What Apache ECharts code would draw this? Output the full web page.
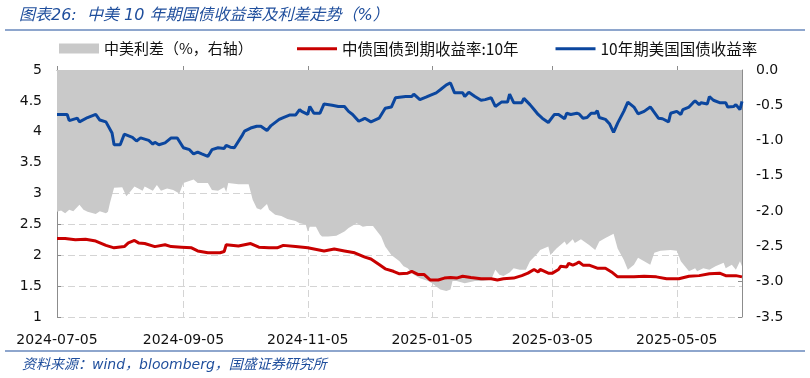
<!DOCTYPE html>
<html>
<head>
<meta charset="utf-8">
<title>中美10年期国债收益率及利差走势</title>
<script src="https://cdn.jsdelivr.net/npm/echarts@6/dist/echarts.min.js"></script>
<style>
  html, body { margin: 0; padding: 0; background: #fff; }
  #main { width: 810px; height: 378px; }
</style>
</head>
<body>
<div id="main"></div>
<script>
// 横轴：逐日类目，起止日期 + 需要显示的刻度标签
var startDate = '2024-07-05';
var endDate = '2025-06-06';
var xTickLabels = ['2024-07-05', '2024-09-05', '2024-11-05', '2025-01-05', '2025-03-05', '2025-05-05'];

var seriesNames = ['中美利差（%，右轴）', '中债国债到期收益率:10年', '10年期美国国债收益率'];

// 中美利差（右轴）
var spread = [
  ['2024-07-05', -2.01], ['2024-07-07', -1.99], ['2024-07-09', -2.03], ['2024-07-11', -1.98], ['2024-07-13', -2.00],
  ['2024-07-16', -1.91], ['2024-07-18', -1.98], ['2024-07-20', -2.01], ['2024-07-24', -2.04], ['2024-07-26', -2.00],
  ['2024-07-29', -2.03], ['2024-07-30', -2.01], ['2024-07-31', -1.88], ['2024-08-02', -1.67], ['2024-08-06', -1.66],
  ['2024-08-08', -1.79], ['2024-08-10', -1.72], ['2024-08-12', -1.65], ['2024-08-16', -1.71], ['2024-08-17', -1.65],
  ['2024-08-21', -1.71], ['2024-08-23', -1.63], ['2024-08-25', -1.71], ['2024-08-28', -1.68], ['2024-08-31', -1.70],
  ['2024-09-03', -1.75], ['2024-09-05', -1.60], ['2024-09-10', -1.55], ['2024-09-12', -1.60], ['2024-09-17', -1.60],
  ['2024-09-19', -1.70], ['2024-09-22', -1.71], ['2024-09-25', -1.66], ['2024-09-26', -1.73], ['2024-09-27', -1.60],
  ['2024-10-02', -1.62], ['2024-10-07', -1.62], ['2024-10-09', -1.84], ['2024-10-11', -1.96], ['2024-10-13', -1.98],
  ['2024-10-16', -1.90], ['2024-10-17', -1.98], ['2024-10-20', -2.05], ['2024-10-23', -2.07], ['2024-10-26', -2.11],
  ['2024-10-30', -2.14], ['2024-11-01', -2.17], ['2024-11-04', -2.19], ['2024-11-05', -2.29], ['2024-11-06', -2.22],
  ['2024-11-09', -2.22], ['2024-11-11', -2.33], ['2024-11-12', -2.36], ['2024-11-15', -2.36], ['2024-11-19', -2.35],
  ['2024-11-23', -2.29], ['2024-11-25', -2.24], ['2024-11-29', -2.17], ['2024-12-02', -2.22], ['2024-12-04', -2.21],
  ['2024-12-07', -2.21], ['2024-12-11', -2.36], ['2024-12-13', -2.50], ['2024-12-16', -2.62], ['2024-12-20', -2.71],
  ['2024-12-22', -2.78], ['2024-12-24', -2.81], ['2024-12-27', -2.90], ['2024-12-30', -2.95], ['2025-01-03', -2.99],
  ['2025-01-05', -3.02], ['2025-01-08', -3.09], ['2025-01-09', -3.11], ['2025-01-12', -3.13], ['2025-01-14', -3.11],
  ['2025-01-15', -2.99], ['2025-01-17', -2.99], ['2025-01-21', -3.02], ['2025-01-26', -2.99], ['2025-01-30', -2.99],
  ['2025-02-03', -2.97], ['2025-02-05', -2.83], ['2025-02-07', -2.90], ['2025-02-09', -2.92], ['2025-02-12', -2.87],
  ['2025-02-14', -2.81], ['2025-02-17', -2.83], ['2025-02-20', -2.83], ['2025-02-22', -2.71], ['2025-02-26', -2.59],
  ['2025-02-27', -2.55], ['2025-03-03', -2.50], ['2025-03-04', -2.62], ['2025-03-07', -2.53], ['2025-03-11', -2.43],
  ['2025-03-12', -2.48], ['2025-03-15', -2.40], ['2025-03-16', -2.45], ['2025-03-19', -2.40], ['2025-03-23', -2.48],
  ['2025-03-26', -2.55], ['2025-03-28', -2.43], ['2025-03-31', -2.38], ['2025-04-04', -2.32], ['2025-04-06', -2.53],
  ['2025-04-09', -2.69], ['2025-04-11', -2.83], ['2025-04-14', -2.76], ['2025-04-16', -2.66], ['2025-04-19', -2.71],
  ['2025-04-22', -2.76], ['2025-04-24', -2.59], ['2025-04-27', -2.56], ['2025-05-02', -2.55], ['2025-05-05', -2.56],
  ['2025-05-07', -2.71], ['2025-05-09', -2.78], ['2025-05-11', -2.85], ['2025-05-14', -2.81], ['2025-05-15', -2.85],
  ['2025-05-18', -2.81], ['2025-05-21', -2.83], ['2025-05-24', -2.78], ['2025-05-28', -2.73], ['2025-05-29', -2.81],
  ['2025-06-01', -2.76], ['2025-06-03', -2.83], ['2025-06-05', -2.71], ['2025-06-06', -2.78]
];

// 中债国债到期收益率:10年
var cnYield = [
  ['2024-07-05', 2.27], ['2024-07-09', 2.27], ['2024-07-14', 2.25], ['2024-07-19', 2.26], ['2024-07-24', 2.23],
  ['2024-07-29', 2.16], ['2024-08-02', 2.12], ['2024-08-07', 2.14], ['2024-08-09', 2.20], ['2024-08-12', 2.24],
  ['2024-08-14', 2.20], ['2024-08-17', 2.19], ['2024-08-22', 2.14], ['2024-08-27', 2.17], ['2024-08-30', 2.14],
  ['2024-09-04', 2.13], ['2024-09-09', 2.12], ['2024-09-12', 2.07], ['2024-09-17', 2.04], ['2024-09-23', 2.04],
  ['2024-09-25', 2.06], ['2024-09-26', 2.17], ['2024-10-02', 2.15], ['2024-10-08', 2.19], ['2024-10-12', 2.13],
  ['2024-10-17', 2.12], ['2024-10-21', 2.12], ['2024-10-24', 2.16], ['2024-10-30', 2.14], ['2024-11-05', 2.12],
  ['2024-11-13', 2.07], ['2024-11-18', 2.10], ['2024-11-23', 2.07], ['2024-11-28', 2.04], ['2024-12-03', 1.97],
  ['2024-12-06', 1.94], ['2024-12-10', 1.85], ['2024-12-13', 1.78], ['2024-12-17', 1.74], ['2024-12-20', 1.70],
  ['2024-12-24', 1.71], ['2024-12-26', 1.74], ['2024-12-29', 1.69], ['2025-01-01', 1.69], ['2025-01-04', 1.60],
  ['2025-01-08', 1.60], ['2025-01-11', 1.63], ['2025-01-14', 1.64], ['2025-01-17', 1.63], ['2025-01-20', 1.66],
  ['2025-01-24', 1.64], ['2025-01-29', 1.62], ['2025-02-03', 1.62], ['2025-02-06', 1.60], ['2025-02-09', 1.62],
  ['2025-02-14', 1.63], ['2025-02-18', 1.67], ['2025-02-21', 1.71], ['2025-02-24', 1.77], ['2025-02-26', 1.73],
  ['2025-02-27', 1.77], ['2025-03-03', 1.71], ['2025-03-05', 1.71], ['2025-03-08', 1.77], ['2025-03-09', 1.82],
  ['2025-03-12', 1.81], ['2025-03-13', 1.87], ['2025-03-15', 1.84], ['2025-03-17', 1.87], ['2025-03-18', 1.89],
  ['2025-03-20', 1.84], ['2025-03-23', 1.84], ['2025-03-27', 1.79], ['2025-03-31', 1.79], ['2025-04-03', 1.73],
  ['2025-04-06', 1.65], ['2025-04-09', 1.65], ['2025-04-14', 1.65], ['2025-04-19', 1.66], ['2025-04-25', 1.65],
  ['2025-04-30', 1.62], ['2025-05-06', 1.62], ['2025-05-11', 1.66], ['2025-05-16', 1.67], ['2025-05-21', 1.70],
  ['2025-05-26', 1.71], ['2025-05-29', 1.67], ['2025-06-03', 1.67], ['2025-06-06', 1.65]
];

// 10年期美国国债收益率
var usYield = [
  ['2024-07-05', 4.28], ['2024-07-10', 4.28], ['2024-07-11', 4.18], ['2024-07-15', 4.22], ['2024-07-16', 4.16],
  ['2024-07-20', 4.23], ['2024-07-24', 4.28], ['2024-07-26', 4.19], ['2024-07-29', 4.16], ['2024-08-01', 3.98],
  ['2024-08-02', 3.79], ['2024-08-05', 3.79], ['2024-08-07', 3.96], ['2024-08-11', 3.91], ['2024-08-13', 3.85],
  ['2024-08-15', 3.90], ['2024-08-19', 3.86], ['2024-08-21', 3.80], ['2024-08-22', 3.83], ['2024-08-24', 3.79],
  ['2024-08-27', 3.82], ['2024-08-30', 3.90], ['2024-09-02', 3.90], ['2024-09-05', 3.74], ['2024-09-08', 3.71],
  ['2024-09-10', 3.64], ['2024-09-12', 3.67], ['2024-09-14', 3.64], ['2024-09-17', 3.60], ['2024-09-19', 3.71],
  ['2024-09-22', 3.74], ['2024-09-25', 3.73], ['2024-09-26', 3.78], ['2024-09-28', 3.75], ['2024-09-30', 3.74],
  ['2024-10-04', 3.95], ['2024-10-05', 4.01], ['2024-10-08', 4.06], ['2024-10-11', 4.09], ['2024-10-13', 4.09],
  ['2024-10-16', 4.02], ['2024-10-18', 4.10], ['2024-10-22', 4.20], ['2024-10-24', 4.23], ['2024-10-27', 4.27],
  ['2024-10-30', 4.27], ['2024-11-01', 4.36], ['2024-11-02', 4.33], ['2024-11-05', 4.28], ['2024-11-06', 4.41],
  ['2024-11-08', 4.30], ['2024-11-11', 4.30], ['2024-11-13', 4.45], ['2024-11-17', 4.43], ['2024-11-20', 4.41],
  ['2024-11-23', 4.41], ['2024-11-25', 4.33], ['2024-11-27', 4.28], ['2024-11-30', 4.17], ['2024-12-02', 4.20],
  ['2024-12-03', 4.22], ['2024-12-06', 4.16], ['2024-12-10', 4.22], ['2024-12-13', 4.38], ['2024-12-16', 4.40],
  ['2024-12-18', 4.55], ['2024-12-20', 4.56], ['2024-12-23', 4.57], ['2024-12-26', 4.57], ['2024-12-27', 4.61],
  ['2024-12-30', 4.52], ['2025-01-02', 4.56], ['2025-01-04', 4.59], ['2025-01-07', 4.63], ['2025-01-09', 4.68],
  ['2025-01-12', 4.76], ['2025-01-14', 4.79], ['2025-01-16', 4.63], ['2025-01-20', 4.63], ['2025-01-21', 4.57],
  ['2025-01-23', 4.64], ['2025-01-26', 4.57], ['2025-01-29', 4.51], ['2025-01-31', 4.52], ['2025-02-03', 4.55],
  ['2025-02-05', 4.41], ['2025-02-08', 4.48], ['2025-02-11', 4.48], ['2025-02-12', 4.61], ['2025-02-14', 4.47],
  ['2025-02-18', 4.47], ['2025-02-19', 4.54], ['2025-02-22', 4.44], ['2025-02-24', 4.36], ['2025-02-26', 4.28],
  ['2025-02-28', 4.22], ['2025-03-03', 4.15], ['2025-03-06', 4.28], ['2025-03-08', 4.28], ['2025-03-11', 4.21],
  ['2025-03-12', 4.30], ['2025-03-14', 4.28], ['2025-03-17', 4.30], ['2025-03-18', 4.29], ['2025-03-20', 4.22],
  ['2025-03-22', 4.23], ['2025-03-24', 4.30], ['2025-03-26', 4.30], ['2025-03-27', 4.34], ['2025-03-28', 4.23],
  ['2025-03-31', 4.20], ['2025-04-02', 4.13], ['2025-04-04', 3.99], ['2025-04-06', 4.14], ['2025-04-09', 4.33],
  ['2025-04-11', 4.48], ['2025-04-14', 4.40], ['2025-04-16', 4.29], ['2025-04-19', 4.33], ['2025-04-22', 4.40],
  ['2025-04-23', 4.36], ['2025-04-26', 4.22], ['2025-04-28', 4.21], ['2025-05-01', 4.16], ['2025-05-02', 4.30],
  ['2025-05-05', 4.33], ['2025-05-07', 4.28], ['2025-05-08', 4.36], ['2025-05-11', 4.40], ['2025-05-13', 4.47],
  ['2025-05-14', 4.50], ['2025-05-16', 4.44], ['2025-05-17', 4.47], ['2025-05-20', 4.45], ['2025-05-21', 4.57],
  ['2025-05-23', 4.51], ['2025-05-26', 4.47], ['2025-05-29', 4.47], ['2025-05-30', 4.40], ['2025-06-02', 4.41],
  ['2025-06-03', 4.44], ['2025-06-05', 4.36], ['2025-06-06', 4.49]
];

// 生成逐日类目
function buildDays(from, to) {
  var out = [];
  var d = new Date(from + 'T00:00:00Z');
  var end = new Date(to + 'T00:00:00Z');
  while (d <= end) {
    out.push(d.toISOString().slice(0, 10));
    d.setUTCDate(d.getUTCDate() + 1);
  }
  return out;
}
var days = buildDays(startDate, endDate);

function isTick(index, value) {
  return xTickLabels.indexOf(value) > -1;
}

var numFont = "'DejaVu Sans', 'Noto Sans CJK SC', sans-serif";
var cjkFont = "'Noto Sans CJK SC', 'DejaVu Sans', sans-serif";
var titleBlue = '#1f4e9c';
var areaGrey = '#c9c9c9';
var cnRed = '#c80000';
var usBlue = '#0b469e';

var myChart = echarts.init(document.getElementById('main'));
var option = {
  animation: false,
  backgroundColor: '#fff',
  title: [
    {
      text: '图表26:  中美 10 年期国债收益率及利差走势（%）',
      left: 14, top: 3,
      textStyle: { color: titleBlue, fontStyle: 'italic', fontWeight: 'normal', fontSize: 16, fontFamily: numFont }
    },
    {
      text: '资料来源：wind，bloomberg，国盛证券研究所',
      left: 17, top: 353,
      textStyle: { color: titleBlue, fontStyle: 'italic', fontWeight: 'normal', fontSize: 14, fontFamily: numFont }
    }
  ],
  graphic: [
    { type: 'line', shape: { x1: 5, y1: 30, x2: 805, y2: 30 }, style: { stroke: titleBlue, lineWidth: 1.2 } },
    { type: 'line', shape: { x1: 5, y1: 351, x2: 805, y2: 351 }, style: { stroke: titleBlue, lineWidth: 1.2 } }
  ],
  // 两个图例：面积用方块，两条线用细条
  legend: [
    {
      left: 54, top: 36,
      itemWidth: 40, itemHeight: 10,
      textStyle: { fontSize: 15, color: '#111', fontFamily: cjkFont },
      data: [{ name: seriesNames[0], icon: 'rect' }]
    },
    {
      left: 292, top: 36,
      itemWidth: 40, itemHeight: 3, itemGap: 37,
      icon: 'rect',
      textStyle: { fontSize: 15.5, color: '#111', fontFamily: cjkFont },
      data: [seriesNames[1], seriesNames[2]]
    }
  ],
  grid: { left: 57, right: 68, top: 70, bottom: 61 },
  xAxis: {
    type: 'category',
    data: days,
    boundaryGap: false,
    axisLine: { lineStyle: { color: '#8c8c8c' } },
    axisTick: { show: true, inside: true, length: 4, interval: isTick, lineStyle: { color: '#8c8c8c' } },
    axisLabel: { interval: isTick, color: '#111', fontSize: 14, fontFamily: numFont, margin: 16 },
    splitLine: { show: true, interval: isTick, lineStyle: { color: '#d4d4d4', type: [7, 4] } }
  },
  yAxis: [
    {
      type: 'value',
      min: 1, max: 5, interval: 0.5,
      axisLine: { show: true, lineStyle: { color: '#8c8c8c' } },
      axisTick: { show: true, inside: true, length: 4, lineStyle: { color: '#8c8c8c' } },
      axisLabel: { color: '#111', fontSize: 14, fontFamily: numFont, margin: 15 },
      splitLine: { show: true, lineStyle: { color: '#d4d4d4', type: [7, 4] } }
    },
    {
      type: 'value',
      min: -3.5, max: 0, interval: 0.5,
      axisLine: { show: true, lineStyle: { color: '#8c8c8c' } },
      axisTick: { show: true, inside: true, length: 4, lineStyle: { color: '#8c8c8c' } },
      axisLabel: {
        color: '#111', fontSize: 14, fontFamily: numFont, margin: 14,
        formatter: function (v) { return v.toFixed(1); }
      },
      splitLine: { show: false }
    }
  ],
  series: [
    {
      name: seriesNames[0],
      type: 'line',
      yAxisIndex: 1,
      data: spread,
      symbol: 'none',
      itemStyle: { color: areaGrey },
      lineStyle: { width: 0, color: areaGrey },
      areaStyle: { color: areaGrey, opacity: 1 },
      z: 1
    },
    {
      name: seriesNames[1],
      type: 'line',
      data: cnYield,
      symbol: 'none',
      itemStyle: { color: cnRed },
      lineStyle: { width: 3, color: cnRed },
      z: 3
    },
    {
      name: seriesNames[2],
      type: 'line',
      data: usYield,
      symbol: 'none',
      itemStyle: { color: usBlue },
      lineStyle: { width: 3, color: usBlue },
      z: 4
    }
  ]
};
myChart.setOption(option);
</script>
</body>
</html>
